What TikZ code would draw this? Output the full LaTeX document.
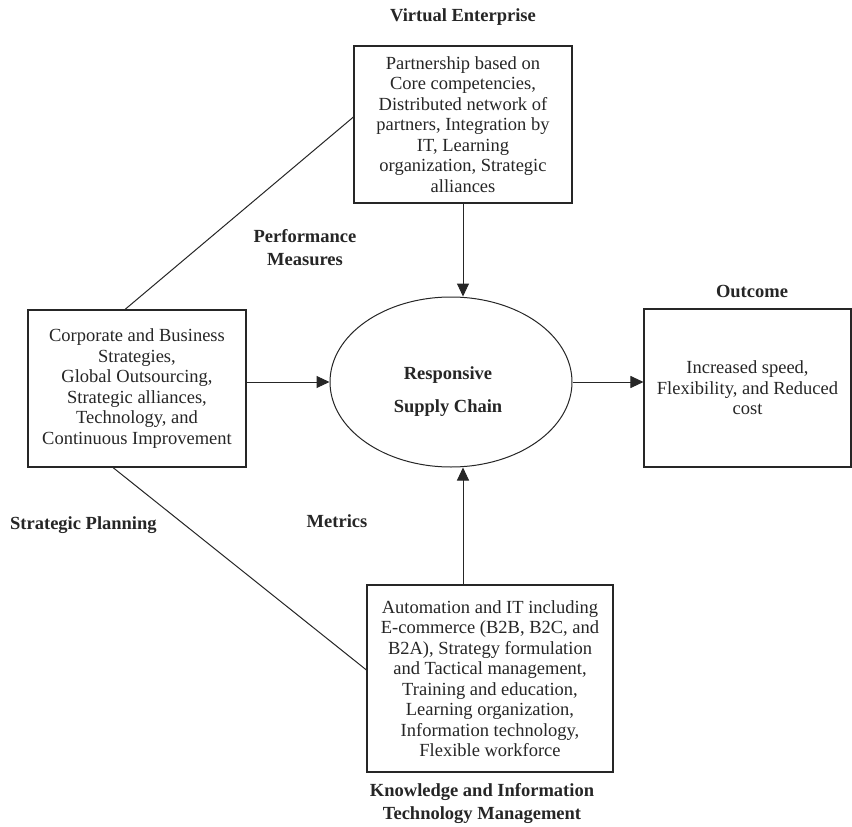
\documentclass[tikz,border=0pt]{standalone}
\usepackage{fontspec}
\setmainfont{Liberation Serif}
\usetikzlibrary{arrows.meta,shapes.geometric}
\begin{document}
\begin{tikzpicture}[x=1pt,y=-1pt,
  every node/.style={font=\fontsize{18.5}{20.5}\selectfont, text=black!85},
  box/.style={draw=black!85, line width=1.1pt, rectangle, inner sep=0pt, align=center},
  lbl/.style={font=\fontsize{18.5}{22.5}\selectfont\bfseries, align=center, inner sep=0pt},
  conn/.style={draw=black!85, line width=1pt},
  arr/.style={conn, -{Triangle[length=13pt,width=12pt]}}]
\useasboundingbox (0,0) rectangle (852,827);
\fill[white] (0,0) rectangle (852,827);

\node[box, minimum width=218pt, minimum height=157pt] (top) at (463,124.5)
  {Partnership based on\\Core competencies,\\Distributed network of\\partners, Integration by\\IT, Learning\\organization, Strategic\\alliances};
\node[box, minimum width=218pt, minimum height=157pt] (left) at (137,388.5)
  {Corporate and Business\\Strategies,\\Global Outsourcing,\\Strategic alliances,\\Technology, and\\Continuous Improvement};
\node[box, minimum width=207pt, minimum height=158pt] (out) at (747.5,388)
  {Increased speed,\\Flexibility, and Reduced\\cost};
\node[box, minimum width=246pt, minimum height=187pt] (bot) at (490,678.5)
  {Automation and IT including\\E-commerce (B2B, B2C, and\\B2A), Strategy formulation\\and Tactical management,\\Training and education,\\Learning organization,\\Information technology,\\Flexible workforce};
\node[draw=black!85, line width=1pt, ellipse, minimum width=242pt, minimum height=170pt, inner sep=0pt] (ell) at (451,382) {};
\node[lbl] (resp) at (448,375) {Responsive};
\node[lbl] (scm) at (448,408) {Supply Chain};

\node[lbl] (ve) at (463,17) {Virtual Enterprise};
\node[lbl] (pm) at (305,247.5) {Performance\\Measures};
\node[lbl] (oc) at (752,291) {Outcome};
\node[lbl, anchor=west] (sp) at (10,525) {Strategic Planning};
\node[lbl] (me) at (337,521) {Metrics};
\node[lbl] (kit) at (482,803.5) {Knowledge and Information\\Technology Management};

\draw[arr] (left.east |- ell.center) -- (ell.west);
\draw[arr] (ell.east) -- (out.west |- ell.center);
\draw[arr] (top.south) -- (top.south |- ell.north);
\draw[arr] (bot.north -| top.south) -- (top.south |- ell.south);
\draw[conn] ([xshift=-12pt]left.north) -- ([yshift=7.5pt]top.west);
\draw[conn] ([xshift=-24pt]left.south) -- ([yshift=8.5pt]bot.west);
\end{tikzpicture}
\end{document}
